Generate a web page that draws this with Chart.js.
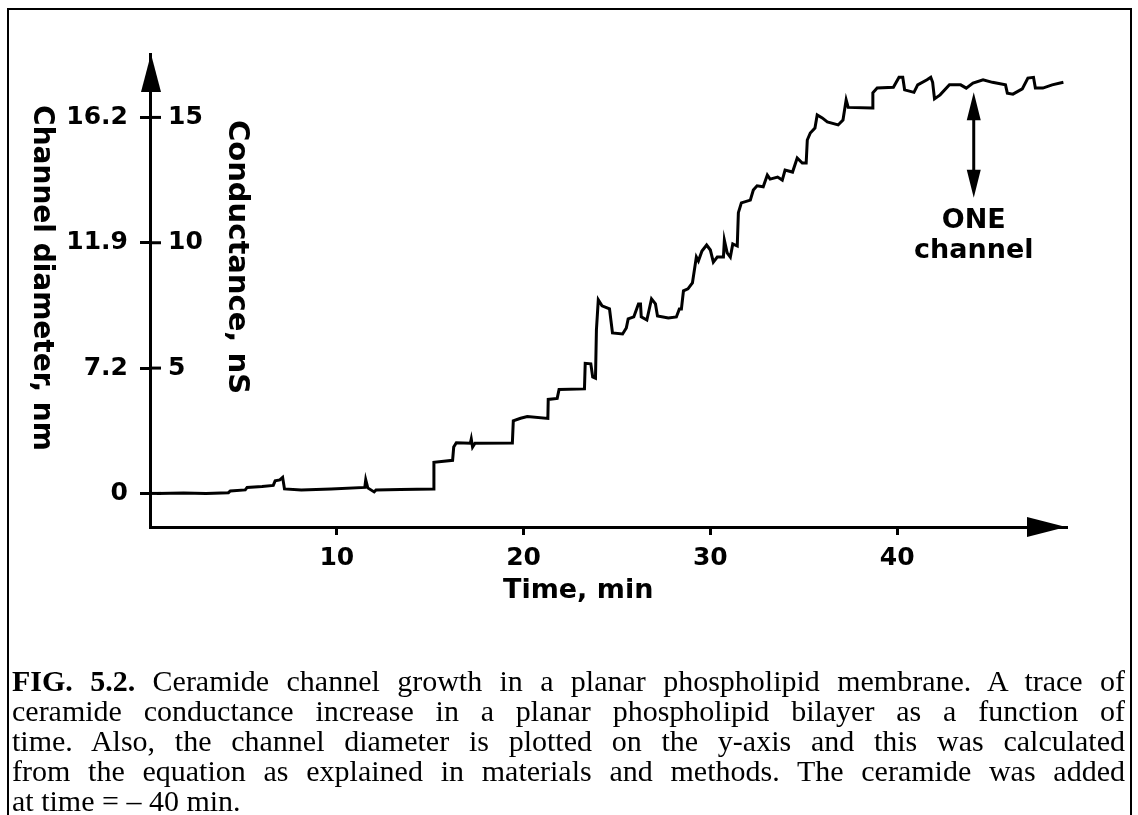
<!DOCTYPE html>
<html>
<head>
<meta charset="utf-8">
<script src="https://cdn.jsdelivr.net/npm/chart.js@4.4.0/dist/chart.umd.min.js"></script>
<style>
  html, body { margin: 0; padding: 0; background: #fff; }
  #wrap { position: relative; width: 1138px; height: 815px; overflow: hidden; }
  #chart { position: absolute; left: 0; top: 0; }
  .cap {
    position: absolute; left: 12px; width: 1113px;
    font-family: "Liberation Serif", "Times New Roman", serif;
    font-size: 30px; line-height: 30px; color: #000;
    text-align: justify; text-align-last: justify; white-space: normal;
  }
  .cap.last { text-align-last: left; }
</style>
</head>
<body>
<div id="wrap">
  <canvas id="chart" width="1138" height="815"></canvas>
  <div class="cap" style="top:666px"><b>FIG. 5.2.</b> Ceramide channel growth in a planar phospholipid membrane. A trace of</div>
  <div class="cap" style="top:696px">ceramide conductance increase in a planar phospholipid bilayer as a function of</div>
  <div class="cap" style="top:726px">time. Also, the channel diameter is plotted on the y-axis and this was calculated</div>
  <div class="cap" style="top:756px">from the equation as explained in materials and methods. The ceramide was added</div>
  <div class="cap last" style="top:786px">at time = – 40 min.</div>
</div>
<script>
// conductance trace: time in min, conductance in nS
const timeMin = [
  0.37, 1.8, 3.0, 4.2, 4.3, 5.1, 5.2, 6.0, 6.6, 6.7, 6.95, 7.1, 7.2, 8.1, 9.7,
  11.5, 11.55, 11.66, 12.0, 12.1, 13.4, 15.19, 15.2, 16.2, 16.26, 16.4, 17.15, 17.2, 17.27, 17.4,
  19.4, 19.45, 19.84, 20.2, 21.3, 21.32, 21.8, 21.9, 23.26, 23.3, 23.6, 23.7, 23.85, 23.9, 24.0,
  24.2, 24.6, 24.76, 25.3, 25.5, 25.6, 25.9, 26.15, 26.26, 26.3, 26.6, 26.85, 27.06, 27.17, 27.75,
  28.18, 28.34, 28.45, 28.56, 28.8, 29.04, 29.25, 29.36, 29.55, 29.8, 30.0, 30.16, 30.37, 30.7, 30.75,
  30.9, 31.07, 31.2, 31.44, 31.5, 31.66, 32.14, 32.3, 32.5, 32.83, 33.05, 33.2, 33.6, 33.85, 34.0,
  34.4, 34.65, 34.92, 35.13, 35.19, 35.35, 35.6, 35.72, 35.99, 36.26, 36.84, 37.1, 37.27, 37.38, 38.66,
  38.7, 38.93, 39.8, 40.1, 40.3, 40.4, 40.9, 41.1, 41.6, 41.8, 41.9, 42.0, 42.3, 42.8, 43.4,
  43.7, 44.06, 44.6, 45.1, 45.8, 45.9, 46.2, 46.7, 47.0, 47.3, 47.4, 47.8, 48.3, 48.9
];
const conductanceNS = [
  0.0, 0.02, 0.0, 0.03, 0.1, 0.14, 0.24, 0.28, 0.32, 0.5, 0.54, 0.64, 0.18, 0.14, 0.18,
  0.24, 0.54, 0.22, 0.06, 0.14, 0.16, 0.18, 1.24, 1.32, 1.85, 2.02, 2.0, 2.17, 1.85, 2.0,
  2.01, 2.9, 3.0, 3.07, 2.99, 3.75, 3.79, 4.15, 4.17, 5.19, 5.17, 4.65, 4.6, 6.52, 7.72,
  7.48, 7.36, 6.4, 6.36, 6.6, 6.96, 7.04, 7.56, 7.56, 7.04, 6.92, 7.76, 7.56, 7.08, 7.0,
  7.04, 7.36, 7.36, 8.08, 8.16, 8.4, 9.43, 9.27, 9.67, 9.91, 9.71, 9.23, 9.43, 9.43, 10.1,
  9.6, 9.43, 9.95, 9.87, 11.2, 11.59, 11.7, 12.1, 12.27, 12.23, 12.7, 12.54, 12.62, 12.5, 12.9,
  12.82, 13.38, 13.18, 13.18, 14.1, 14.38, 14.58, 15.1, 14.98, 14.82, 14.7, 14.9, 15.7, 15.4, 15.38,
  15.98, 16.17, 16.2, 16.6, 16.6, 16.1, 16.0, 16.3, 16.5, 16.6, 16.4, 15.74, 15.9, 16.3, 16.3,
  16.17, 16.37, 16.5, 16.4, 16.3, 15.97, 15.93, 16.14, 16.57, 16.6, 16.17, 16.17, 16.3, 16.4
];

const xTicks = [10, 20, 30, 40];
const yTicks = [0, 5, 10, 15];
const diameterLabels = ['0', '7.2', '11.9', '16.2'];
const conductanceLabels = ['', '5', '10', '15'];

// "ONE channel" marker: time and conductance span of the double arrow
const oneChannelTime = 44.1;
const oneChannelSpan = [11.8, 16.0];

const boldFont = size => 'bold ' + size + 'px "DejaVu Sans"';

function arrowHead(ctx, tipX, tipY, dx, dy, len, half) {
  // dx, dy: unit direction the arrow points to
  const bx = tipX - dx * len, by = tipY - dy * len;
  ctx.beginPath();
  ctx.moveTo(tipX, tipY);
  ctx.lineTo(bx - dy * half, by + dx * half);
  ctx.lineTo(bx + dy * half, by - dx * half);
  ctx.closePath();
  ctx.fill();
}

const figureDecor = {
  id: 'figureDecor',
  afterDraw(chart) {
    const { ctx, chartArea: a, scales: { x, y } } = chart;
    ctx.save();
    ctx.fillStyle = '#000';
    ctx.strokeStyle = '#000';

    // frame round the figure
    ctx.lineWidth = 2;
    ctx.strokeRect(8, 9, 1123, 840);

    // right half of the y ticks, with the conductance labels
    ctx.lineWidth = 3;
    ctx.font = boldFont(25);
    ctx.textAlign = 'left';
    ctx.textBaseline = 'middle';
    yTicks.forEach((v, i) => {
      const py = y.getPixelForValue(v);
      ctx.beginPath();
      ctx.moveTo(a.left, py);
      ctx.lineTo(a.left + 11, py);
      ctx.stroke();
      if (conductanceLabels[i]) ctx.fillText(conductanceLabels[i], a.left + 18, py);
    });

    // axis arrows
    arrowHead(ctx, a.left + 1, a.top, 0, -1, 38, 10);
    arrowHead(ctx, a.right, a.bottom, 1, 0, 39, 10);

    // rotated axis titles (read top to bottom)
    ctx.textAlign = 'center';
    ctx.textBaseline = 'alphabetic';
    ctx.font = boldFont(28);
    ctx.save();
    ctx.translate(34, 278);
    ctx.rotate(Math.PI / 2);
    ctx.fillText('Channel diameter, nm', 0, 0);
    ctx.restore();
    ctx.font = boldFont(29);
    ctx.save();
    ctx.translate(229, 257);
    ctx.rotate(Math.PI / 2);
    ctx.fillText('Conductance, nS', 0, 0);
    ctx.restore();

    // x title
    ctx.font = boldFont(27);
    ctx.textAlign = 'left';
    ctx.fillText('Time, min', 503, 598);

    // ONE channel double arrow
    const ax = x.getPixelForValue(oneChannelTime);
    const yTop = y.getPixelForValue(oneChannelSpan[1]);
    const yBot = y.getPixelForValue(oneChannelSpan[0]);
    ctx.lineWidth = 3;
    ctx.beginPath();
    ctx.moveTo(ax, yTop + 20);
    ctx.lineTo(ax, yBot - 20);
    ctx.stroke();
    arrowHead(ctx, ax, yTop, 0, -1, 28, 7);
    arrowHead(ctx, ax, yBot, 0, 1, 28, 7);
    ctx.font = boldFont(27);
    ctx.textAlign = 'center';
    ctx.fillText('ONE', ax, 228);
    ctx.fillText('channel', ax, 258);
    ctx.restore();
  }
};

const tickFont = { family: 'DejaVu Sans', weight: 'bold', size: 25 };

new Chart(document.getElementById('chart'), {
  type: 'line',
  data: {
    datasets: [{
      label: 'Conductance',
      data: timeMin.map((t, i) => ({ x: t, y: conductanceNS[i] })),
      borderColor: '#000',
      borderWidth: 3,
      pointRadius: 0,
      tension: 0,
      fill: false
    }]
  },
  options: {
    responsive: false,
    animation: false,
    layout: { padding: { left: 40, right: 72, top: 54, bottom: 228 } },
    plugins: { legend: { display: false }, tooltip: { enabled: false } },
    scales: {
      x: {
        type: 'linear',
        min: 0,
        max: 49.04,
        afterBuildTicks: s => { s.ticks = xTicks.map(v => ({ value: v })); },
        afterFit: s => { s.height = 60; s.paddingLeft = 0; s.paddingRight = 0; },
        grid: { display: true, drawOnChartArea: false, drawTicks: true, tickLength: 8, color: '#000', lineWidth: 3 },
        border: { display: true, color: '#000', width: 3 },
        ticks: { color: '#000', font: tickFont, padding: 8, maxRotation: 0, autoSkip: false }
      },
      y: {
        type: 'linear',
        min: -1.34,
        max: 17.53,
        afterBuildTicks: s => { s.ticks = yTicks.map(v => ({ value: v })); },
        afterFit: s => { s.width = 110; s.paddingTop = 0; s.paddingBottom = 0; },
        grid: { display: true, drawOnChartArea: false, drawTicks: true, tickLength: 10, color: '#000', lineWidth: 3 },
        border: { display: true, color: '#000', width: 3 },
        ticks: {
          color: '#000', font: tickFont, padding: 12, autoSkip: false,
          callback: v => diameterLabels[yTicks.indexOf(v)]
        }
      }
    }
  },
  plugins: [figureDecor]
});
</script>
</body>
</html>
